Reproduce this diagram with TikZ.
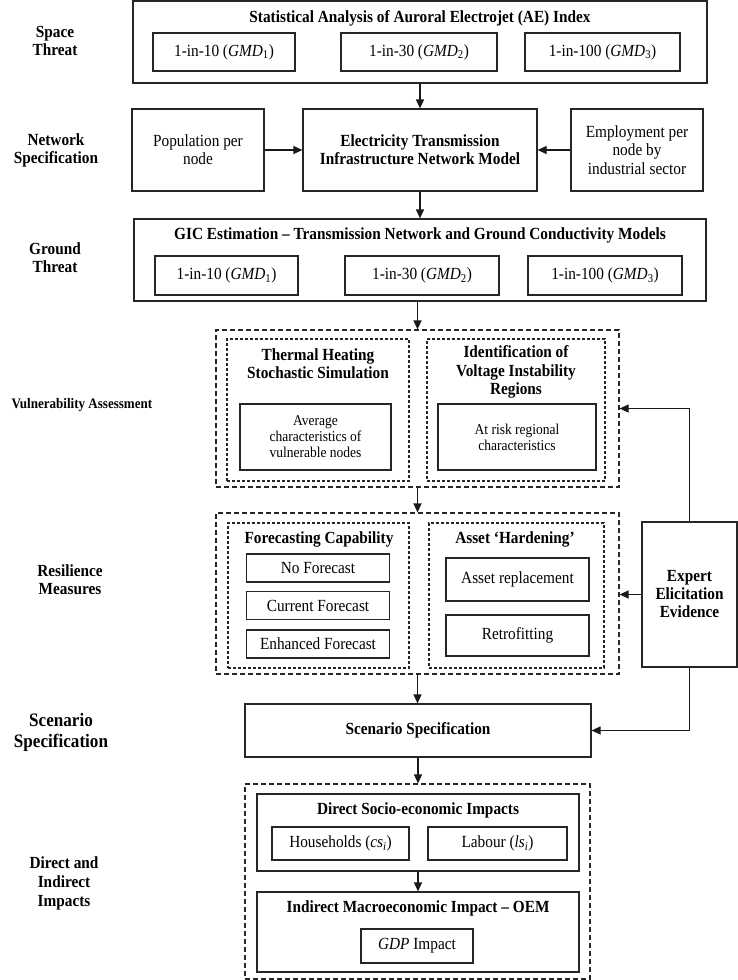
\documentclass[tikz,border=0pt]{standalone}
\usepackage{fontspec}
\setmainfont[FakeStretch=0.9]{Liberation Serif}
\usetikzlibrary{arrows.meta}
\begin{document}
\begin{tikzpicture}[x=1pt,y=1pt,
 every node/.style={font=\fontsize{17}{18}\selectfont, align=center, inner sep=0pt},
 box/.style={draw=black!85, line width=1.2pt},
 obox/.style={draw=black!85, line width=1.2pt, dash pattern=on 5pt off 3pt},
 ibox/.style={draw=black!85, line width=1.1pt, dash pattern=on 3pt off 2pt},
 ttl/.style={font=\fontsize{17}{18.5}\selectfont\bfseries},
 small/.style={font=\fontsize{15}{16}\selectfont},
 lab/.style={font=\fontsize{17}{18}\selectfont\bfseries},
 arr/.style={draw=black!90, line width=1.2pt, -{Triangle[length=9pt,width=8pt]}},
]
\useasboundingbox[fill=white] (0,0) rectangle (738,-980);

% ---- left labels
\node[lab] (lspace) at (55,-40.5) {Space\\Threat};
\node[lab] (lnet) at (56,-150) {Network\\Specification};
\node[lab] (lground) at (55,-258) {Ground\\Threat};
\node[lab, font=\fontsize{14.5}{18}\selectfont\bfseries] (lvul) at (82,-405) {Vulnerability Assessment};
\node[lab] (lres) at (70,-580) {Resilience\\Measures};
\node[lab, font=\fontsize{19}{21}\selectfont\bfseries] (lscen) at (61,-732.5) {Scenario\\Specification};
\node[lab, font=\fontsize{17}{19}\selectfont\bfseries] (limp) at (64,-883) {Direct and\\Indirect\\Impacts};

% ---- space threat
\node[box, minimum width=574, minimum height=82] (top) at (420,-42) {};
\node[ttl] (toptitle) at (420,-18) {Statistical Analysis of Auroral Electrojet (AE) Index};
\node[box, minimum width=142, minimum height=38] (s1) at (224,-52) {1-in-10 (\textit{GMD}\textsubscript{1})};
\node[box, minimum width=156, minimum height=38] (s2) at (419,-52) {1-in-30 (\textit{GMD}\textsubscript{2})};
\node[box, minimum width=155, minimum height=38] (s3) at (602.5,-52) {1-in-100 (\textit{GMD}\textsubscript{3})};

% ---- network specification
\node[box, minimum width=132, minimum height=82] (pop) at (198,-150) {Population per\\node};
\node[box, minimum width=234, minimum height=82, font=\fontsize{17}{18}\selectfont\bfseries] (elec) at (420,-150) {Electricity Transmission\\Infrastructure Network Model};
\node[box, minimum width=132, minimum height=82, font=\fontsize{17}{18.5}\selectfont] (emp) at (637,-150) {Employment per\\node by\\industrial sector};

% ---- ground threat
\node[box, minimum width=572, minimum height=82] (gic) at (420,-260) {};
\node[ttl] (gictitle) at (420,-235) {GIC Estimation -- Transmission Network and Ground Conductivity Models};
\node[box, minimum width=143, minimum height=39] (g1) at (226.5,-275.5) {1-in-10 (\textit{GMD}\textsubscript{1})};
\node[box, minimum width=154, minimum height=39] (g2) at (422,-275.5) {1-in-30 (\textit{GMD}\textsubscript{2})};
\node[box, minimum width=154, minimum height=39] (g3) at (605,-275.5) {1-in-100 (\textit{GMD}\textsubscript{3})};

% ---- vulnerability assessment
\node[obox, minimum width=403, minimum height=157] (vul) at (417.5,-408.5) {};
\node[ibox, minimum width=182, minimum height=142] (vl) at (318,-410) {};
\node[ibox, minimum width=178, minimum height=142] (vr) at (516,-410) {};
\node[ttl] (vltitle) at (318,-363.5) {Thermal Heating\\Stochastic Simulation};
\node[ttl] (vrtitle) at (516,-372) {Identification of\\Voltage Instability\\Regions};
\node[box, small, minimum width=151, minimum height=66] (vlbox) at (315.5,-437) {Average\\characteristics of\\vulnerable nodes};
\node[box, small, minimum width=158, minimum height=66] (vrbox) at (517,-437) {At risk regional\\characteristics};

% ---- resilience measures
\node[obox, minimum width=403, minimum height=161] (res) at (417.5,-593.5) {};
\node[ibox, minimum width=181, minimum height=145] (rl) at (318.5,-595.5) {};
\node[ibox, minimum width=175, minimum height=145] (rr) at (516.5,-595.5) {};
\node[ttl] (rltitle) at (319,-539) {Forecasting Capability};
\node[ttl] (rrtitle) at (515,-539) {Asset `Hardening'};
\node[box, minimum width=143, minimum height=28] (nof) at (318,-568) {No Forecast};
\node[box, minimum width=143, minimum height=28] (curf) at (318,-605.5) {Current Forecast};
\node[box, minimum width=143, minimum height=28] (enhf) at (318,-644) {Enhanced Forecast};
\node[box, minimum width=143, minimum height=43] (arep) at (517.5,-579.5) {Asset replacement};
\node[box, minimum width=143, minimum height=41] (retro) at (517.5,-635.5) {Retrofitting};

% ---- expert
\node[box, minimum width=95, minimum height=145, font=\fontsize{17}{18}\selectfont\bfseries] (exp) at (689.5,-594.5) {Expert\\Elicitation\\Evidence};

% ---- scenario
\node[box, minimum width=346, minimum height=53, font=\fontsize{17}{18}\selectfont\bfseries] (scen) at (418,-730.5) {Scenario Specification};

% ---- impacts
\node[obox, minimum width=345, minimum height=195] (imp) at (417.5,-881.5) {};
\node[box, minimum width=322, minimum height=77] (direct) at (418,-832.5) {};
\node[ttl] (dirtitle) at (418,-810) {Direct Socio-economic Impacts};
\node[box, minimum width=137, minimum height=33] (hh) at (340.5,-843.5) {Households (\textit{cs}\textsubscript{\textit{i}})};
\node[box, minimum width=139, minimum height=33] (lab) at (497.5,-843.5) {Labour (\textit{ls}\textsubscript{\textit{i}})};
\node[box, minimum width=322, minimum height=80] (indirect) at (418,-932) {};
\node[ttl] (indtitle) at (418,-908) {Indirect Macroeconomic Impact -- OEM};
\node[box, minimum width=112, minimum height=34] (gdp) at (417,-946) {\textit{GDP} Impact};

% ---- connectors
\draw[arr] (top.south) -- (elec.north);
\draw[arr] (pop.east) -- (elec.west);
\draw[arr] (emp.west) -- (elec.east);
\draw[arr] (elec.south) -- (gic.north);
\draw[arr] (vul.north |- gic.south) -- (vul.north);
\draw[arr] (vul.south) -- (res.north);
\draw[arr] (res.south) -- (res.south |- scen.north);
\draw[arr] (scen.south) -- (scen.south |- imp.north);
\draw[arr] (direct.south) -- (indirect.north);
\draw[arr] (exp.north) |- (vul.east);
\draw[arr] (exp.west) -- (exp.west -| res.east);
\draw[arr] (exp.south) |- (scen.east);
\end{tikzpicture}
\end{document}
